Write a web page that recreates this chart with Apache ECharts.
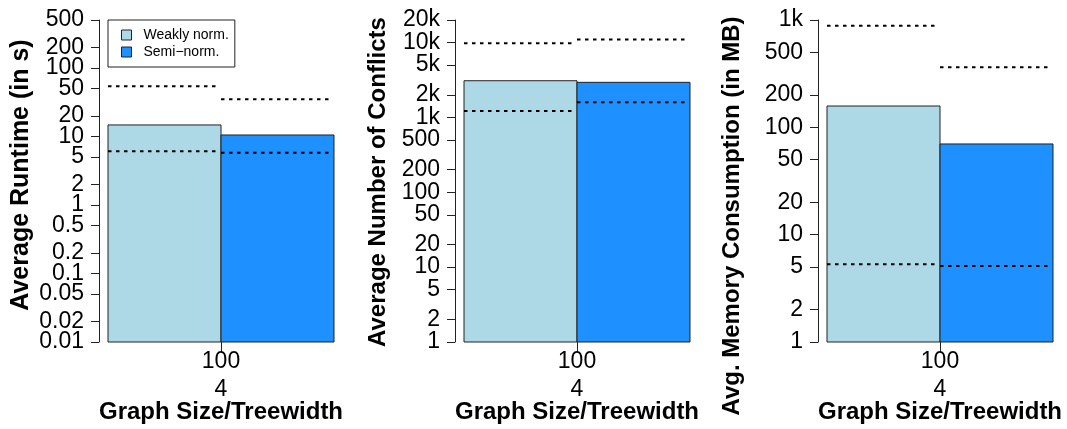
<!DOCTYPE html>
<html>
<head>
<meta charset="utf-8">
<script src="https://cdn.jsdelivr.net/npm/echarts@6/dist/echarts.min.js"></script>
<style>
  html, body { margin: 0; padding: 0; background: #fff; }
  #chart { width: 1067px; height: 429px; }
</style>
</head>
<body>
<div id="chart"></div>
<script>
// Groups and the single size/treewidth category
const groups = ['Weakly norm.', 'Semi\u2212norm.'];
const graphSizes = ['100'];
const treewidths = ['4'];

// Average runtime in seconds, with min / max per group
const runtimeAvg = [14.7, 10.5];
const runtimeMin = [6.1, 5.8];
const runtimeMax = [54, 35];

// Average number of conflicts, with min / max per group
const conflictsAvg = [3090, 2940];
const conflictsMin = [1220, 1590];
const conflictsMax = [9770, 11000];

// Average memory consumption in MB, with min / max per group
const memoryAvg = [158, 70];
const memoryMin = [5.3, 5.1];
const memoryMax = [885, 362];

// Tick values of the three log axes
const runtimeTicks = [0.01, 0.02, 0.05, 0.1, 0.2, 0.5, 1, 2, 5, 10, 20, 50, 100, 200, 500];
const conflictTicks = [1, 2, 5, 10, 20, 50, 100, 200, 500, 1000, 2000, 5000, 10000, 20000];
const memoryTicks = [1, 2, 5, 10, 20, 50, 100, 200, 500, 1000];

const groupColors = ['#ADD8E6', '#1E90FF'];
const FONT = '"Liberation Sans", Arial, Helvetica, sans-serif';

function tickFmt(v) {
  const r = Number(Number(v).toPrecision(6));
  if (r >= 1000) return (r / 1000) + 'k';
  return String(r);
}

const panels = [
  { avg: runtimeAvg, min: runtimeMin, max: runtimeMax, ticks: runtimeTicks, left: 99 },
  { avg: conflictsAvg, min: conflictsMin, max: conflictsMax, ticks: conflictTicks, left: 455 },
  { avg: memoryAvg, min: memoryMin, max: memoryMax, ticks: memoryTicks, left: 818 }
];

const grids = [], xAxes = [], yAxes = [], series = [];
const labelBase = { color: '#000', fontSize: 23, fontFamily: FONT, margin: 15, formatter: tickFmt,
  showMinLabel: true, showMaxLabel: true, hideOverlap: false };

panels.forEach((p, k) => {
  const n = p.ticks.length;
  // labels next to the ends of the axis are put on a companion axis so the
  // end-label overlap check of the main axis does not drop them
  const innerLabels = [p.ticks[1], p.ticks[n - 2]];
  const mainLabels = p.ticks.filter((t, i) => i !== 1 && i !== n - 2);

  grids.push({ left: p.left, top: 20, width: 244, height: 322, containLabel: false });
  xAxes.push({
    type: 'category',
    gridIndex: k,
    data: graphSizes.map((s, i) => s + '\n' + treewidths[i]),
    axisLine: { show: false },
    axisTick: { show: true, alignWithLabel: true, length: 10, lineStyle: { color: '#222', width: 1 } },
    axisLabel: { color: '#000', fontSize: 23, fontFamily: FONT, lineHeight: 28, margin: 6 },
    splitLine: { show: false }
  });
  yAxes.push({
    type: 'log',
    logBase: 10,
    gridIndex: k,
    position: 'left',
    min: p.ticks[0],
    max: p.ticks[n - 1],
    axisLine: { show: true, lineStyle: { color: '#222', width: 1 } },
    axisTick: { show: true, length: 8, customValues: p.ticks, lineStyle: { color: '#222', width: 1 } },
    axisLabel: Object.assign({ customValues: mainLabels }, labelBase),
    splitLine: { show: false },
    minorTick: { show: false }
  });
  yAxes.push({
    type: 'log',
    logBase: 10,
    gridIndex: k,
    position: 'left',
    offset: 0,
    min: p.ticks[0],
    max: p.ticks[n - 1],
    axisLine: { show: false },
    axisTick: { show: false },
    axisLabel: Object.assign({ customValues: innerLabels }, labelBase),
    splitLine: { show: false },
    minorTick: { show: false }
  });

  groups.forEach((name, g) => {
    series.push({
      type: 'custom',
      name: name,
      xAxisIndex: k,
      yAxisIndex: 2 * k,
      itemStyle: { color: groupColors[g] },
      encode: { x: 0, y: [1, 2, 3] },
      data: [[0, p.avg[g], p.min[g], p.max[g]]],
      renderItem: function (params, api) {
        const cat = api.value(0);
        const top = api.coord([cat, api.value(1)]);
        const lo = api.coord([cat, api.value(2)]);
        const hi = api.coord([cat, api.value(3)]);
        const band = api.size([1, 0])[0];
        const w = band * 113 / 244;
        const x0 = g === 0 ? top[0] - w : top[0];
        const baseY = params.coordSys.y + params.coordSys.height;
        const dash = { stroke: '#000', lineWidth: 2, lineDash: [3.5, 4.5] };
        return {
          type: 'group',
          children: [
            { type: 'rect', shape: { x: x0, y: top[1], width: w, height: baseY - top[1] },
              style: { fill: groupColors[g], stroke: '#222', lineWidth: 1 } },
            { type: 'line', z2: 5, shape: { x1: x0, y1: lo[1], x2: x0 + w - 2, y2: lo[1] }, style: dash },
            { type: 'line', z2: 5, shape: { x1: x0, y1: hi[1], x2: x0 + w - 2, y2: hi[1] }, style: dash }
          ]
        };
      }
    });
  });
});

function titleStyle(size) {
  return { font: 'bold ' + size + 'px ' + FONT, fill: '#000', textAlign: 'center', textVerticalAlign: 'middle' };
}
const yTitles = [
  { text: 'Average Runtime (in s)', x: 21, y: 175, size: 25 },
  { text: 'Average Number of Conflicts', x: 378, y: 182, size: 24 },
  { text: 'Avg. Memory Consumption (in MB)', x: 732, y: 216, size: 24 }
];
const xTitleCenters = [221, 577, 940];

const graphic = [];
yTitles.forEach(t => {
  graphic.push({ type: 'text', x: t.x, y: t.y, rotation: Math.PI / 2,
    style: Object.assign({ text: t.text }, titleStyle(t.size)) });
});
xTitleCenters.forEach(cx => {
  graphic.push({ type: 'text', x: cx, y: 412,
    style: Object.assign({ text: 'Graph Size/Treewidth' }, titleStyle(24)) });
});

const chart = echarts.init(document.getElementById('chart'), null, { renderer: 'canvas' });
chart.setOption({
  animation: false,
  backgroundColor: '#fff',
  grid: grids,
  xAxis: xAxes,
  yAxis: yAxes,
  series: series,
  graphic: graphic,
  legend: {
    data: groups,
    left: 108,
    top: 20,
    orient: 'vertical',
    selectedMode: false,
    icon: 'rect',
    itemWidth: 10,
    itemHeight: 10,
    itemGap: 3,
    padding: [8, 6, 8, 13],
    borderColor: '#222',
    borderWidth: 1,
    backgroundColor: '#fff',
    itemStyle: { borderColor: '#222', borderWidth: 1 },
    textStyle: { color: '#000', fontSize: 14, fontFamily: FONT, padding: [0, 0, 0, 7] }
  }
});
</script>
</body>
</html>
